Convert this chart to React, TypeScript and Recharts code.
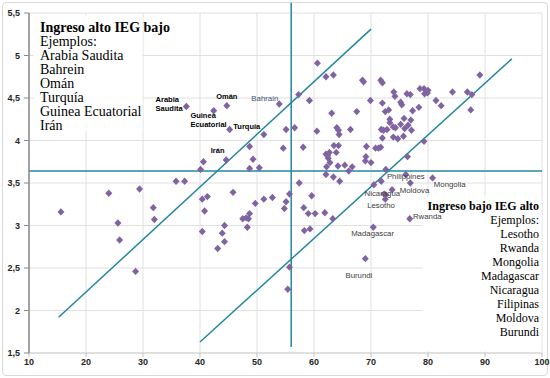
import { ScatterChart, Scatter, XAxis, YAxis, CartesianGrid, ReferenceLine, ReferenceArea } from 'recharts'

// [IEG, ingreso] for the unlabelled countries
const puntos: [number, number][] = [
  [15.6, 3.16], [24.0, 3.38], [29.4, 3.43], [25.6, 3.03], [25.9, 2.83], [31.8, 3.21], [32.0, 3.07], [28.7, 2.46], [35.8, 3.52], [37.3, 3.52],
  [40.4, 3.31], [41.3, 3.34], [40.8, 3.17], [40.4, 2.93], [44.3, 3.0], [43.9, 2.91], [44.3, 2.81], [43.1, 2.73], [45.8, 3.39], [47.5, 3.08],
  [48.1, 3.09], [48.5, 3.08], [48.7, 3.14], [48.3, 2.98], [49.7, 3.26], [51.2, 3.31], [52.7, 3.33], [55.1, 3.28], [54.8, 3.2], [55.7, 3.37],
  [57.4, 3.5], [55.7, 2.51], [55.4, 2.25],
  [51.2, 4.07], [48.7, 3.93], [49.3, 3.78], [40.6, 3.75], [40.1, 3.66], [48.7, 3.67], [50.4, 3.68], [55.1, 4.13], [56.6, 4.15], [54.6, 3.91], [57.3, 4.54],
  [60.6, 4.91], [62.1, 4.75], [63.4, 4.77], [68.5, 4.71], [68.7, 4.69], [71.7, 4.71], [72.0, 4.68], [59.2, 4.47], [63.1, 4.32], [67.5, 4.34],
  [69.9, 4.47], [72.0, 4.44], [74.0, 4.57], [74.2, 4.52], [76.3, 4.55], [76.9, 4.54], [75.2, 4.45], [75.4, 4.42], [72.5, 4.34], [73.1, 4.36],
  [73.3, 4.25], [75.8, 4.26], [77.0, 4.24], [77.3, 4.35], [78.4, 4.39], [78.6, 4.61], [79.3, 4.61], [80.0, 4.59], [79.4, 4.55], [79.9, 4.56],
  [81.4, 4.47], [82.3, 4.41], [84.3, 4.57], [86.9, 4.57], [87.7, 4.54], [87.5, 4.36], [89.1, 4.77],
  [60.5, 4.11], [64.0, 4.15], [64.3, 4.12], [64.4, 4.07], [66.4, 4.13], [71.8, 4.13], [72.2, 4.12], [72.8, 4.13], [73.3, 4.21], [73.9, 4.16],
  [74.3, 4.15], [75.2, 4.19], [75.9, 4.14], [76.5, 4.18], [77.1, 4.12], [72.0, 4.03], [73.9, 4.04], [74.7, 4.02], [75.7, 4.05], [79.3, 3.99],
  [58.1, 3.92], [63.5, 3.94], [64.3, 3.94], [69.2, 3.93], [70.8, 3.91], [71.3, 3.91], [71.7, 3.92], [62.1, 3.84], [62.7, 3.86], [62.4, 3.82],
  [63.9, 3.86], [62.5, 3.79], [69.1, 3.81], [69.0, 3.76], [70.0, 3.74], [62.8, 3.74], [62.2, 3.69], [64.2, 3.7], [65.4, 3.71], [66.7, 3.69],
  [66.1, 3.64], [72.6, 3.66], [76.4, 3.81], [62.1, 3.6], [63.4, 3.57], [64.5, 3.52],
  [71.8, 3.52], [70.5, 3.48], [76.9, 3.5], [72.3, 3.37],
  [59.6, 3.35], [58.2, 3.21], [59.0, 3.14], [60.2, 3.14], [61.9, 3.15], [63.3, 3.08], [58.3, 2.94], [59.3, 2.96],
]

const etiquetados = [
  { name: 'Arabia Saudita', x: 37.6, y: 4.4 },
  { name: 'Guinea Ecuatorial', x: 42.4, y: 4.35 },
  { name: 'Omán', x: 44.7, y: 4.41 },
  { name: 'Bahrain', x: 53.9, y: 4.43 },
  { name: 'Turquía', x: 45.2, y: 4.13 },
  { name: 'Irán', x: 44.6, y: 3.77 },
  { name: 'Philippines', x: 76.1, y: 3.6 },
  { name: 'Mongolia', x: 80.8, y: 3.56 },
  { name: 'Moldova', x: 73.7, y: 3.42 },
  { name: 'Nicaragua', x: 72.6, y: 3.36 },
  { name: 'Lesotho', x: 72.5, y: 3.31 },
  { name: 'Rwanda', x: 76.8, y: 3.08 },
  { name: 'Madagascar', x: 70.4, y: 2.98 },
  { name: 'Burundi', x: 69.0, y: 2.61 },
]

const xTicks = [10, 20, 30, 40, 50, 60, 70, 80, 90, 100]
const yTicks = [1.5, 2, 2.5, 3, 3.5, 4, 4.5, 5, 5.5]

const corteIngreso = 3.64
const vertical = [{ x: 56, y: 1.57 }, { x: 56, y: 5.62 }]
const diagSup = [{ x: 15.2, y: 1.92 }, { x: 70, y: 5.31 }]
const diagInf = [{ x: 40, y: 1.63 }, { x: 94.7, y: 4.96 }]

const altoBajo = ['Arabia Saudita', 'Bahrein', 'Omán', 'Turquía', 'Guinea Ecuatorial', 'Irán']
const bajoAlto = ['Lesotho', 'Rwanda', 'Mongolia', 'Madagascar', 'Nicaragua', 'Filipinas', 'Moldova', 'Burundi']

const data = puntos.map(([x, y]) => ({ x, y }))

const TEAL = '#23879f'
const PURPLE = '#8064a2'

type LabelStyle = { lines?: string[]; dx: number; dy: number; anchor: 'start' | 'middle' | 'end'; color: string; bold?: boolean }
const labelStyles: Record<string, LabelStyle> = {
  'Arabia Saudita': { lines: ['Arabia', 'Saudita'], dx: -30.7, dy: -7.4, anchor: 'start', color: '#000', bold: true },
  'Guinea Ecuatorial': { lines: ['Guinea', 'Ecuatorial'], dx: -23.3, dy: 4.7, anchor: 'start', color: '#000', bold: true },
  'Omán': { dx: 0, dy: -9.4, anchor: 'middle', color: '#000', bold: true },
  Bahrain: { dx: -1, dy: -5.7, anchor: 'end', color: '#44546a' },
  'Turquía': { dx: 3.7, dy: -2.6, anchor: 'start', color: '#000', bold: true },
  'Irán': { dx: -1.7, dy: -10, anchor: 'end', color: '#000', bold: true },
  Philippines: { dx: 0, dy: 1.5, anchor: 'middle', color: '#404040' },
  Mongolia: { dx: 1.3, dy: 7, anchor: 'start', color: '#404040' },
  Moldova: { dx: 7.7, dy: 1, anchor: 'start', color: '#404040' },
  Nicaragua: { dx: -3.5, dy: -1.2, anchor: 'middle', color: '#404040' },
  Lesotho: { dx: -4.2, dy: 6.4, anchor: 'middle', color: '#404040' },
  Rwanda: { dx: 3.2, dy: -2, anchor: 'start', color: '#404040' },
  Madagascar: { dx: -0.7, dy: 6, anchor: 'middle', color: '#404040' },
  Burundi: { dx: -6.4, dy: 17.3, anchor: 'middle', color: '#404040' },
}

function diamond(cx: number, cy: number) {
  return `M${cx},${cy - 3.7}L${cx + 3.5},${cy}L${cx},${cy + 3.7}L${cx - 3.5},${cy}Z`
}

const Punto = (p: any) => <path d={diamond(p.cx, p.cy)} fill={PURPLE} />

const PuntoEtiqueta = (p: any) => {
  const s = labelStyles[p.payload.name]
  const lines = s.lines ?? [p.payload.name]
  return (
    <g>
      <path d={diamond(p.cx, p.cy)} fill={PURPLE} />
      {lines.map((t, i) => (
        <text
          key={t}
          x={p.cx + s.dx}
          y={p.cy + s.dy + i * 9}
          textAnchor={s.anchor}
          dominantBaseline="central"
          fontSize={s.bold ? 7.5 : 7.8}
          fontWeight={s.bold ? 'bold' : 'normal'}
          fill={s.color}
          fontFamily="'Liberation Sans', Arial, sans-serif"
        >
          {t}
        </text>
      ))}
    </g>
  )
}

const tickStyle = { fontSize: 9, fontWeight: 'bold', fill: '#262626', fontFamily: "'Liberation Sans', Arial, sans-serif" }

export default function App() {
  return (
    <div style={{ position: 'relative', width: 550, height: 378, background: '#fff' }}>
      <style>{'body{margin:0}'}</style>
      <div style={{ position: 'absolute', left: 2, top: 2, width: 544, height: 372, border: '1px solid #d9d9d9', borderRadius: 4, pointerEvents: 'none' }} />
      <ScatterChart width={550} height={378} margin={{ top: 13, right: 8, left: 0, bottom: 0 }}>
        <CartesianGrid stroke="#e0e0e0" />
        <XAxis type="number" dataKey="x" domain={[10, 100]} ticks={xTicks} height={25} tick={tickStyle} axisLine={{ stroke: '#d0d0d0' }} tickLine={{ stroke: '#bfbfbf' }} tickSize={4} />
        <YAxis type="number" dataKey="y" domain={[1.5, 5.5]} ticks={yTicks} width={29} tick={tickStyle} tickFormatter={(v: number) => String(v).replace('.', ',')} axisLine={{ stroke: '#8a8a8a', strokeWidth: 1.5 }} tickLine={{ stroke: '#8a8a8a' }} tickSize={5} tickMargin={4} />
        <ReferenceArea x1={10.8} x2={29.9} y1={4.11} y2={5.47} fill="#fff" fillOpacity={1} stroke="none" />
        <ReferenceArea x1={79} x2={99.9} y1={1.52} y2={3.34} fill="#fff" fillOpacity={1} stroke="none" />
        <ReferenceLine y={corteIngreso} stroke={TEAL} strokeWidth={1.5} />
        <ReferenceLine segment={vertical} stroke={TEAL} strokeWidth={1.5} ifOverflow="visible" />
        <ReferenceLine segment={diagSup} stroke={TEAL} strokeWidth={1.5} />
        <ReferenceLine segment={diagInf} stroke={TEAL} strokeWidth={1.5} />
        <Scatter data={data} shape={Punto} isAnimationActive={false} />
        <Scatter data={etiquetados} shape={PuntoEtiqueta} isAnimationActive={false} />
      </ScatterChart>
      <div style={{ position: 'absolute', left: 40, top: 21, fontFamily: "'Liberation Serif', 'Times New Roman', serif", fontSize: 14, lineHeight: '14px', color: '#000' }}>
        <div style={{ fontWeight: 'bold' }}>Ingreso alto IEG bajo</div>
        <div>Ejemplos:</div>
        {altoBajo.map((n) => <div key={n}>{n}</div>)}
      </div>
      <div style={{ position: 'absolute', right: 11, top: 199, textAlign: 'right', fontFamily: "'Liberation Serif', 'Times New Roman', serif", fontSize: 12, lineHeight: '14px', color: '#000' }}>
        <div style={{ fontWeight: 'bold' }}>Ingreso bajo IEG alto</div>
        <div>Ejemplos:</div>
        {bajoAlto.map((n) => <div key={n}>{n}</div>)}
      </div>
    </div>
  )
}
